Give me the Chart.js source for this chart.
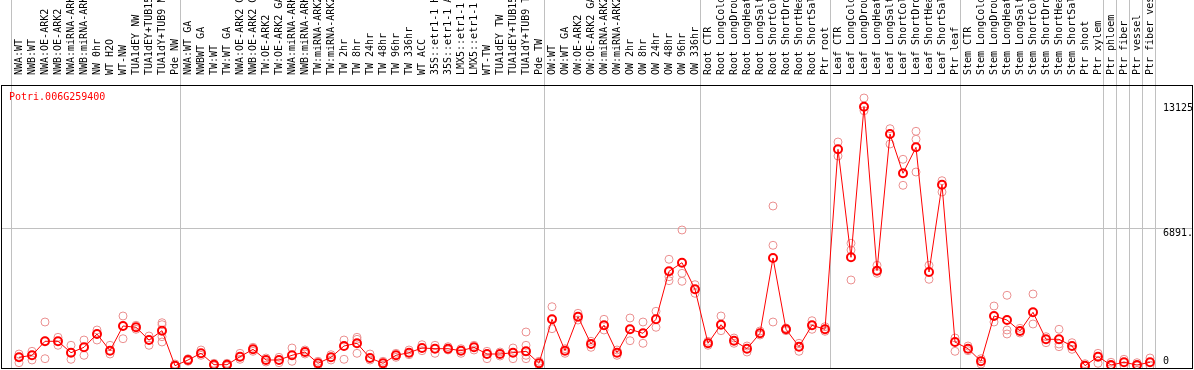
<!DOCTYPE html>
<html>
<head>
<meta charset="utf-8">
<script src="https://cdn.jsdelivr.net/npm/chart.js"></script>
<style>
	html, body { margin: 0; padding: 0; background: #fff; }
	canvas { display: block; }
</style>
</head>
<body>
<canvas id="grafico" width="1194" height="370"></canvas>
<script>
var gen = 'Potri.006G259400';

var muestras = [
	'NWA:WT', 'NWB:WT', 'NWA:OE-ARK2', 'NWB:OE-ARK2', 'NWA:miRNA-ARK2', 'NWB:miRNA-ARK2',
	'NW 0hr', 'WT H2O', 'WT-NW', 'TUA1dEY NW', 'TUA1dEY+TUB15', 'TUA1dY+TUB9 NW', 'Pde NW',
	'NWA:WT GA', 'NWBWT GA', 'TW:WT', 'TW:WT GA', 'NWA:OE-ARK2 GA', 'NWB:OE-ARK2 GA',
	'TW:OE-ARK2', 'TW:OE-ARK2 GA', 'NWA:miRNA-ARK2', 'NWB:miRNA-ARK2', 'TW:miRNA-ARK2',
	'TW:miRNA-ARK2', 'TW 2hr', 'TW 8hr', 'TW 24hr', 'TW 48hr', 'TW 96hr', 'TW 336hr',
	'WT ACC', '35S::etr1-1 H2', '35S::etr1-1 AC', 'LMX5::etr1-1 H', 'LMX5::etr1-1 A',
	'WT-TW', 'TUA1dEY TW', 'TUA1dEY+TUB15', 'TUA1dY+TUB9 TW', 'Pde TW',
	'OW:WT', 'OW:WT GA', 'OW:OE-ARK2', 'OW:OE-ARK2 GA', 'OW:miRNA-ARK2', 'OW:miRNA-ARK2',
	'OW 2hr', 'OW 8hr', 'OW 24hr', 'OW 48hr', 'OW 96hr', 'OW 336hr',
	'Root CTR', 'Root LongCold', 'Root LongDroug', 'Root LongHeat', 'Root LongSalt',
	'Root ShortCold', 'Root ShortDrou', 'Root ShortHeat', 'Root ShortSalt', 'Ptr root',
	'Leaf CTR', 'Leaf LongCold', 'Leaf LongDroug', 'Leaf LongHeat', 'Leaf LongSalt',
	'Leaf ShortCold', 'Leaf ShortDrou', 'Leaf ShortHeat', 'Leaf ShortSalt', 'Ptr leaf',
	'Stem CTR', 'Stem LongCold', 'Stem LongDroug', 'Stem LongHeat', 'Stem LongSalt',
	'Stem ShortCold', 'Stem ShortDrou', 'Stem ShortHeat', 'Stem ShortSalt', 'Ptr shoot',
	'Ptr xylem', 'Ptr phloem', 'Ptr fiber', 'Ptr vessel', 'Ptr fiber vess'
];

var medias = [
	434, 534, 1234, 1234, 664, 934, 1598, 764, 1998, 1933, 1298, 1763, 15,
	300, 634, 65, 65, 464, 834, 300, 300, 534, 699, 135, 434, 999, 1134, 400, 135, 534, 664,
	899, 864, 864, 764, 934, 599, 599, 664, 734, 135,
	2332, 764, 2462, 1099, 2033, 664, 1833, 1633, 2332, 4729, 5159, 3830,
	1134, 2063, 1263, 864, 1633, 5394, 1833, 964, 2033, 1833,
	10822, 5428, 12949, 4759, 11586, 9623, 10922, 4694, 9054, 1199,
	864, 235, 2497, 2297, 1748, 2682, 1333, 1333, 999, 15,
	464, 50, 185, 50, 185
];

var replicas = [
	[599, 165], [734, 300], [2197, 365, 1248], [1433, 1034], [1034, 335], [1298, 534],
	[1798, 1298, 1598], [1034, 599], [2497, 1363, 1998], [2033, 1833], [1498, 1034],
	[2162, 2063, 1199, 1463], [100, 0],
	[365, 235], [799, 534], [135, 0], [135, 0], [634, 335], [934, 734], [400, 200], [434, 165],
	[899, 235], [799, 599], [235, 35], [564, 300], [1298, 335], [1433, 1333, 634], [599, 300],
	[235, 35], [634, 434], [799, 564],
	[1064, 764], [1034, 634], [964, 799], [864, 634], [1034, 799], [734, 365], [699, 499],
	[899, 365], [1698, 1034, 534, 365], [235, 35],
	[2961, 1863], [864, 634], [2632, 2297], [1234, 934], [2332, 1798], [799, 534],
	[2397, 1263], [2197, 1134], [2732, 1933], [5329, 4460, 4260], [6792, 4629, 4230], [4060, 3631],
	[1234, 1034], [2497, 1763], [1398, 1134], [999, 699], [1748, 1548], [7990, 6028, 2197],
	[1898, 1763], [1134, 734], [2262, 1833], [1963, 1733],
	[11187, 10487], [6128, 5793, 4295], [13384, 12750], [5029, 4629], [11851, 11087],
	[10323, 9024], [11721, 11322, 9688], [5029, 4330], [9254, 8690], [1398, 734],
	[999, 764], [365, 100], [2996, 2197], [3531, 1798, 1598], [1883, 1648], [3596, 2097],
	[1463, 1164], [1833, 1099, 964], [1164, 834], [115, 0],
	[634, 135], [185, 0], [335, 15], [165, 0], [400, 15]
];

// primera muestra de cada grupo (89 = cierre)
var inicioGrupo = [1, 14, 42, 54, 64, 74, 85, 86, 87, 88, 89];

var valoresY = [6891, 13125];
var textosY = ['6891.', '13125'];

Chart.defaults.font.family = 'DejaVu Sans Mono';
Chart.defaults.font.size = 10;
Chart.defaults.color = '#000';

function sinPadding(scale) {
	scale.paddingLeft = 0;
	scale.paddingRight = 0;
	scale.paddingTop = 0;
	scale.paddingBottom = 0;
}

var puntosMedia = medias.map(function(v, i) { return {x: i + 1, y: v}; });
var puntosReplica = [];
replicas.forEach(function(r, i) {
	r.forEach(function(v) { puntosReplica.push({x: i + 1, y: v}); });
});

var marco = {
	id: 'marco',
	beforeDatasetsDraw: function(chart) {
		var ctx = chart.ctx, a = chart.chartArea, ex = chart.scales.x;
		ctx.save();
		ctx.strokeStyle = '#c0c0c0';
		ctx.lineWidth = 1;
		inicioGrupo.forEach(function(i) {
			var px = Math.round(ex.getPixelForValue(i)) - 8 + 0.5;
			ctx.beginPath();
			ctx.moveTo(px, 0);
			ctx.lineTo(px, a.bottom);
			ctx.stroke();
		});
		ctx.restore();
	},
	afterDraw: function(chart) {
		var ctx = chart.ctx, a = chart.chartArea;
		ctx.save();
		ctx.strokeStyle = '#000';
		ctx.lineWidth = 1;
		ctx.strokeRect(a.left + 0.5, a.top + 0.5, a.right - a.left - 1, a.bottom - a.top);
		ctx.fillStyle = '#ff0000';
		ctx.font = '10px "DejaVu Sans Mono"';
		ctx.textBaseline = 'top';
		ctx.fillText(gen, a.left + 8, a.top + 7);
		ctx.restore();
	}
};

new Chart(document.getElementById('grafico'), {
	type: 'line',
	data: {
		datasets: [
			{
				data: puntosMedia,
				borderColor: '#ff0000',
				borderWidth: 1,
				pointRadius: 4,
				pointBorderWidth: 2,
				pointBorderColor: '#ff0000',
				pointBackgroundColor: 'rgba(0,0,0,0)',
				tension: 0
			},
			{
				data: puntosReplica,
				showLine: false,
				pointRadius: 4,
				pointBorderWidth: 1,
				pointBorderColor: '#eb9090',
				pointBackgroundColor: 'rgba(0,0,0,0)'
			}
		]
	},
	options: {
		responsive: false,
		animation: false,
		devicePixelRatio: 1,
		layout: {autoPadding: false, padding: {left: 1, right: 1, top: 0, bottom: 2}},
		plugins: {legend: {display: false}, tooltip: {enabled: false}},
		scales: {
			x: {
				type: 'linear',
				position: 'top',
				min: 1 - 18 / 13,
				max: 1 - 18 / 13 + 1192 / 13,
				grid: {display: false},
				border: {display: false},
				afterBuildTicks: function(scale) {
					scale.ticks = muestras.map(function(m, i) { return {value: i + 1}; });
				},
				afterFit: function(scale) {
					scale.height = 85;
					sinPadding(scale);
				},
				ticks: {
					autoSkip: false,
					minRotation: 90,
					maxRotation: 90,
					padding: 2,
					labelOffset: 12,
					color: '#000',
					callback: function(v, i) { return muestras[i]; }
				}
			},
			y: {
				position: 'right',
				min: -100,
				max: 14033,
				border: {display: false},
				grid: {
					drawTicks: false,
					color: function(c) { return c.tick && c.tick.value === 6891 ? '#c0c0c0' : 'rgba(0,0,0,0)'; }
				},
				afterBuildTicks: function(scale) {
					scale.ticks = valoresY.map(function(v) { return {value: v}; });
				},
				afterFit: function(scale) {
					scale.width = 0;
					sinPadding(scale);
				},
				ticks: {
					mirror: true,
					padding: 0,
					crossAlign: 'far',
					align: 'start',
					color: '#000',
					callback: function(v, i) { return textosY[i]; }
				}
			},
			y2: {
				position: 'right',
				min: -100,
				max: 14033,
				border: {display: false},
				grid: {display: false, drawTicks: false},
				afterBuildTicks: function(scale) {
					scale.ticks = [{value: 0}];
				},
				afterFit: function(scale) {
					scale.width = 0;
					sinPadding(scale);
				},
				ticks: {
					mirror: true,
					padding: -24,
					crossAlign: 'far',
					align: 'end',
					color: '#000',
					callback: function() { return '0'; }
				}
			}
		}
	},
	plugins: [marco]
});
</script>
</body>
</html>
